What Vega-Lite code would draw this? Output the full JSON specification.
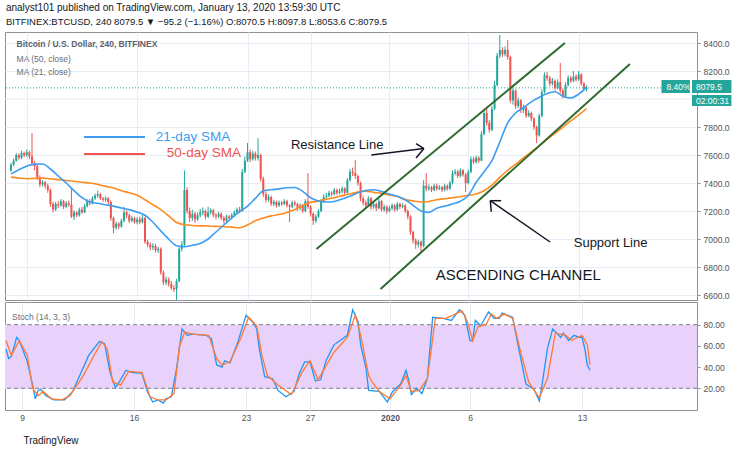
{
"$schema":"https://vega.github.io/schema/vega-lite/v6.json",
"background":"#ffffff",
"padding":{"left":2,"top":3,"right":0,"bottom":0},
"spacing":0,
"title":{"text":"analyst101 published on TradingView.com, January 13, 2020 13:59:30 UTC","subtitle":"BITFINEX:BTCUSD, 240 8079.5 ▼ −95.2 (−1.16%) O:8070.5 H:8097.8 L:8053.6 C:8079.5","anchor":"start","dx":3,"font":"Liberation Sans","subtitleFont":"Liberation Sans","fontSize":10,"subtitleFontSize":9.5,"fontWeight":"normal","color":"#131722","subtitleColor":"#131722","subtitlePadding":4,"offset":5},
"config":{"font":"Liberation Sans","view":{"stroke":"#8f9196"},"axis":{"labelFont":"Liberation Sans","labelFontSize":8.5,"labelColor":"#50535e","gridColor":"#e6edf4","tickColor":"#8a8d96","domain":false,"title":null}},
"datasets":{
"candles":[
{"t":"2019-12-08T00:00Z","o":7490,"h":7545,"l":7480,"c":7530},
{"t":"2019-12-08T04:00Z","o":7530,"h":7575,"l":7520,"c":7560},
{"t":"2019-12-08T08:00Z","o":7560,"h":7615,"l":7550,"c":7600},
{"t":"2019-12-08T12:00Z","o":7600,"h":7612,"l":7565,"c":7580},
{"t":"2019-12-08T16:00Z","o":7580,"h":7630,"l":7570,"c":7615},
{"t":"2019-12-08T20:00Z","o":7615,"h":7625,"l":7585,"c":7600},
{"t":"2019-12-09T00:00Z","o":7600,"h":7640,"l":7585,"c":7620},
{"t":"2019-12-09T04:00Z","o":7620,"h":7630,"l":7570,"c":7590},
{"t":"2019-12-09T08:00Z","o":7590,"h":7757,"l":7525,"c":7540},
{"t":"2019-12-09T12:00Z","o":7540,"h":7560,"l":7490,"c":7520},
{"t":"2019-12-09T16:00Z","o":7520,"h":7530,"l":7420,"c":7440},
{"t":"2019-12-09T20:00Z","o":7440,"h":7455,"l":7370,"c":7390},
{"t":"2019-12-10T00:00Z","o":7390,"h":7420,"l":7375,"c":7405},
{"t":"2019-12-10T04:00Z","o":7405,"h":7415,"l":7360,"c":7380},
{"t":"2019-12-10T08:00Z","o":7380,"h":7395,"l":7330,"c":7350},
{"t":"2019-12-10T12:00Z","o":7350,"h":7360,"l":7230,"c":7250},
{"t":"2019-12-10T16:00Z","o":7250,"h":7265,"l":7190,"c":7210},
{"t":"2019-12-10T20:00Z","o":7210,"h":7265,"l":7200,"c":7250},
{"t":"2019-12-11T00:00Z","o":7250,"h":7270,"l":7220,"c":7240},
{"t":"2019-12-11T04:00Z","o":7240,"h":7285,"l":7230,"c":7270},
{"t":"2019-12-11T08:00Z","o":7270,"h":7280,"l":7215,"c":7230},
{"t":"2019-12-11T12:00Z","o":7230,"h":7270,"l":7220,"c":7255},
{"t":"2019-12-11T16:00Z","o":7255,"h":7275,"l":7230,"c":7245},
{"t":"2019-12-11T20:00Z","o":7245,"h":7364,"l":7150,"c":7160},
{"t":"2019-12-12T00:00Z","o":7160,"h":7205,"l":7135,"c":7190},
{"t":"2019-12-12T04:00Z","o":7190,"h":7200,"l":7155,"c":7170},
{"t":"2019-12-12T08:00Z","o":7170,"h":7225,"l":7160,"c":7210},
{"t":"2019-12-12T12:00Z","o":7210,"h":7230,"l":7180,"c":7190},
{"t":"2019-12-12T16:00Z","o":7190,"h":7250,"l":7185,"c":7235},
{"t":"2019-12-12T20:00Z","o":7235,"h":7285,"l":7225,"c":7270},
{"t":"2019-12-13T00:00Z","o":7270,"h":7285,"l":7240,"c":7255},
{"t":"2019-12-13T04:00Z","o":7255,"h":7305,"l":7245,"c":7290},
{"t":"2019-12-13T08:00Z","o":7290,"h":7325,"l":7280,"c":7310},
{"t":"2019-12-13T12:00Z","o":7310,"h":7345,"l":7295,"c":7320},
{"t":"2019-12-13T16:00Z","o":7320,"h":7330,"l":7280,"c":7290},
{"t":"2019-12-13T20:00Z","o":7290,"h":7300,"l":7265,"c":7280},
{"t":"2019-12-14T00:00Z","o":7280,"h":7305,"l":7265,"c":7290},
{"t":"2019-12-14T04:00Z","o":7290,"h":7300,"l":7250,"c":7265},
{"t":"2019-12-14T08:00Z","o":7265,"h":7275,"l":7130,"c":7150},
{"t":"2019-12-14T12:00Z","o":7150,"h":7160,"l":7040,"c":7080},
{"t":"2019-12-14T16:00Z","o":7080,"h":7125,"l":7065,"c":7110},
{"t":"2019-12-14T20:00Z","o":7110,"h":7120,"l":7070,"c":7090},
{"t":"2019-12-15T00:00Z","o":7090,"h":7145,"l":7080,"c":7130},
{"t":"2019-12-15T04:00Z","o":7130,"h":7230,"l":7120,"c":7190},
{"t":"2019-12-15T08:00Z","o":7190,"h":7205,"l":7150,"c":7170},
{"t":"2019-12-15T12:00Z","o":7170,"h":7180,"l":7115,"c":7130},
{"t":"2019-12-15T16:00Z","o":7130,"h":7165,"l":7120,"c":7150},
{"t":"2019-12-15T20:00Z","o":7150,"h":7160,"l":7110,"c":7120},
{"t":"2019-12-16T00:00Z","o":7120,"h":7155,"l":7105,"c":7140},
{"t":"2019-12-16T04:00Z","o":7140,"h":7160,"l":7105,"c":7120},
{"t":"2019-12-16T08:00Z","o":7120,"h":7175,"l":7110,"c":7150},
{"t":"2019-12-16T12:00Z","o":7150,"h":7160,"l":6965,"c":6980},
{"t":"2019-12-16T16:00Z","o":6980,"h":6995,"l":6940,"c":6960},
{"t":"2019-12-16T20:00Z","o":6960,"h":6975,"l":6920,"c":6940},
{"t":"2019-12-17T00:00Z","o":6940,"h":6970,"l":6920,"c":6950},
{"t":"2019-12-17T04:00Z","o":6950,"h":6965,"l":6905,"c":6920},
{"t":"2019-12-17T08:00Z","o":6920,"h":6945,"l":6900,"c":6930},
{"t":"2019-12-17T12:00Z","o":6930,"h":6940,"l":6745,"c":6760},
{"t":"2019-12-17T16:00Z","o":6760,"h":6775,"l":6670,"c":6690},
{"t":"2019-12-17T20:00Z","o":6690,"h":6730,"l":6670,"c":6710},
{"t":"2019-12-18T00:00Z","o":6710,"h":6725,"l":6660,"c":6680},
{"t":"2019-12-18T04:00Z","o":6680,"h":6700,"l":6635,"c":6650},
{"t":"2019-12-18T08:00Z","o":6650,"h":6670,"l":6620,"c":6640},
{"t":"2019-12-18T12:00Z","o":6640,"h":6715,"l":6565,"c":6700},
{"t":"2019-12-18T16:00Z","o":6700,"h":6950,"l":6690,"c":6930},
{"t":"2019-12-18T20:00Z","o":6930,"h":6985,"l":6910,"c":6960},
{"t":"2019-12-19T00:00Z","o":6960,"h":7490,"l":6950,"c":7350},
{"t":"2019-12-19T04:00Z","o":7350,"h":7370,"l":7180,"c":7200},
{"t":"2019-12-19T08:00Z","o":7200,"h":7225,"l":7120,"c":7150},
{"t":"2019-12-19T12:00Z","o":7150,"h":7210,"l":7130,"c":7180},
{"t":"2019-12-19T16:00Z","o":7180,"h":7195,"l":7115,"c":7140},
{"t":"2019-12-19T20:00Z","o":7140,"h":7190,"l":7130,"c":7170},
{"t":"2019-12-20T00:00Z","o":7170,"h":7215,"l":7155,"c":7190},
{"t":"2019-12-20T04:00Z","o":7190,"h":7225,"l":7170,"c":7200},
{"t":"2019-12-20T08:00Z","o":7200,"h":7210,"l":7140,"c":7160},
{"t":"2019-12-20T12:00Z","o":7160,"h":7230,"l":7150,"c":7190},
{"t":"2019-12-20T16:00Z","o":7190,"h":7220,"l":7175,"c":7205},
{"t":"2019-12-20T20:00Z","o":7205,"h":7215,"l":7155,"c":7170},
{"t":"2019-12-21T00:00Z","o":7170,"h":7185,"l":7140,"c":7160},
{"t":"2019-12-21T04:00Z","o":7160,"h":7195,"l":7150,"c":7180},
{"t":"2019-12-21T08:00Z","o":7180,"h":7190,"l":7135,"c":7150},
{"t":"2019-12-21T12:00Z","o":7150,"h":7165,"l":7110,"c":7130},
{"t":"2019-12-21T16:00Z","o":7130,"h":7175,"l":7120,"c":7160},
{"t":"2019-12-21T20:00Z","o":7160,"h":7170,"l":7135,"c":7150},
{"t":"2019-12-22T00:00Z","o":7150,"h":7185,"l":7140,"c":7170},
{"t":"2019-12-22T04:00Z","o":7170,"h":7205,"l":7160,"c":7190},
{"t":"2019-12-22T08:00Z","o":7190,"h":7225,"l":7180,"c":7210},
{"t":"2019-12-22T12:00Z","o":7210,"h":7230,"l":7185,"c":7200},
{"t":"2019-12-22T16:00Z","o":7200,"h":7500,"l":7195,"c":7480},
{"t":"2019-12-22T20:00Z","o":7480,"h":7590,"l":7470,"c":7560},
{"t":"2019-12-23T00:00Z","o":7560,"h":7686,"l":7550,"c":7620},
{"t":"2019-12-23T04:00Z","o":7620,"h":7640,"l":7550,"c":7570},
{"t":"2019-12-23T08:00Z","o":7570,"h":7630,"l":7560,"c":7610},
{"t":"2019-12-23T12:00Z","o":7610,"h":7625,"l":7560,"c":7580},
{"t":"2019-12-23T16:00Z","o":7580,"h":7720,"l":7560,"c":7600},
{"t":"2019-12-23T20:00Z","o":7600,"h":7610,"l":7410,"c":7430},
{"t":"2019-12-24T00:00Z","o":7430,"h":7445,"l":7300,"c":7320},
{"t":"2019-12-24T04:00Z","o":7320,"h":7340,"l":7260,"c":7280},
{"t":"2019-12-24T08:00Z","o":7280,"h":7320,"l":7265,"c":7300},
{"t":"2019-12-24T12:00Z","o":7300,"h":7310,"l":7235,"c":7250},
{"t":"2019-12-24T16:00Z","o":7250,"h":7280,"l":7235,"c":7265},
{"t":"2019-12-24T20:00Z","o":7265,"h":7275,"l":7225,"c":7240},
{"t":"2019-12-25T00:00Z","o":7240,"h":7275,"l":7230,"c":7260},
{"t":"2019-12-25T04:00Z","o":7260,"h":7270,"l":7235,"c":7250},
{"t":"2019-12-25T08:00Z","o":7250,"h":7285,"l":7240,"c":7270},
{"t":"2019-12-25T12:00Z","o":7270,"h":7280,"l":7225,"c":7240},
{"t":"2019-12-25T16:00Z","o":7240,"h":7250,"l":7120,"c":7230},
{"t":"2019-12-25T20:00Z","o":7230,"h":7275,"l":7220,"c":7260},
{"t":"2019-12-26T00:00Z","o":7260,"h":7275,"l":7235,"c":7250},
{"t":"2019-12-26T04:00Z","o":7250,"h":7260,"l":7200,"c":7220},
{"t":"2019-12-26T08:00Z","o":7220,"h":7255,"l":7205,"c":7240},
{"t":"2019-12-26T12:00Z","o":7240,"h":7250,"l":7185,"c":7200},
{"t":"2019-12-26T16:00Z","o":7200,"h":7285,"l":7190,"c":7270},
{"t":"2019-12-26T20:00Z","o":7270,"h":7471,"l":7215,"c":7230},
{"t":"2019-12-27T00:00Z","o":7230,"h":7240,"l":7160,"c":7180},
{"t":"2019-12-27T04:00Z","o":7180,"h":7190,"l":7100,"c":7130},
{"t":"2019-12-27T08:00Z","o":7130,"h":7175,"l":7115,"c":7160},
{"t":"2019-12-27T12:00Z","o":7160,"h":7215,"l":7150,"c":7200},
{"t":"2019-12-27T16:00Z","o":7200,"h":7285,"l":7190,"c":7270},
{"t":"2019-12-27T20:00Z","o":7270,"h":7320,"l":7260,"c":7300},
{"t":"2019-12-28T00:00Z","o":7300,"h":7330,"l":7290,"c":7310},
{"t":"2019-12-28T04:00Z","o":7310,"h":7345,"l":7300,"c":7330},
{"t":"2019-12-28T08:00Z","o":7330,"h":7340,"l":7305,"c":7320},
{"t":"2019-12-28T12:00Z","o":7320,"h":7365,"l":7310,"c":7350},
{"t":"2019-12-28T16:00Z","o":7350,"h":7360,"l":7315,"c":7330},
{"t":"2019-12-28T20:00Z","o":7330,"h":7360,"l":7320,"c":7340},
{"t":"2019-12-29T00:00Z","o":7340,"h":7375,"l":7325,"c":7360},
{"t":"2019-12-29T04:00Z","o":7360,"h":7370,"l":7315,"c":7330},
{"t":"2019-12-29T08:00Z","o":7330,"h":7435,"l":7325,"c":7420},
{"t":"2019-12-29T12:00Z","o":7420,"h":7500,"l":7410,"c":7480},
{"t":"2019-12-29T16:00Z","o":7480,"h":7510,"l":7450,"c":7470},
{"t":"2019-12-29T20:00Z","o":7470,"h":7564,"l":7430,"c":7450},
{"t":"2019-12-30T00:00Z","o":7450,"h":7460,"l":7380,"c":7400},
{"t":"2019-12-30T04:00Z","o":7400,"h":7410,"l":7270,"c":7290},
{"t":"2019-12-30T08:00Z","o":7290,"h":7305,"l":7240,"c":7260},
{"t":"2019-12-30T12:00Z","o":7260,"h":7275,"l":7215,"c":7240},
{"t":"2019-12-30T16:00Z","o":7240,"h":7305,"l":7230,"c":7290},
{"t":"2019-12-30T20:00Z","o":7290,"h":7300,"l":7210,"c":7230},
{"t":"2019-12-31T00:00Z","o":7230,"h":7265,"l":7215,"c":7250},
{"t":"2019-12-31T04:00Z","o":7250,"h":7260,"l":7200,"c":7220},
{"t":"2019-12-31T08:00Z","o":7220,"h":7290,"l":7210,"c":7270},
{"t":"2019-12-31T12:00Z","o":7270,"h":7280,"l":7195,"c":7210},
{"t":"2019-12-31T16:00Z","o":7210,"h":7245,"l":7195,"c":7230},
{"t":"2019-12-31T20:00Z","o":7230,"h":7240,"l":7180,"c":7200},
{"t":"2020-01-01T00:00Z","o":7200,"h":7235,"l":7190,"c":7220},
{"t":"2020-01-01T04:00Z","o":7220,"h":7255,"l":7205,"c":7240},
{"t":"2020-01-01T08:00Z","o":7240,"h":7250,"l":7195,"c":7210},
{"t":"2020-01-01T12:00Z","o":7210,"h":7265,"l":7200,"c":7250},
{"t":"2020-01-01T16:00Z","o":7250,"h":7260,"l":7215,"c":7230},
{"t":"2020-01-01T20:00Z","o":7230,"h":7255,"l":7220,"c":7240},
{"t":"2020-01-02T00:00Z","o":7240,"h":7250,"l":7185,"c":7200},
{"t":"2020-01-02T04:00Z","o":7200,"h":7210,"l":7140,"c":7160},
{"t":"2020-01-02T08:00Z","o":7160,"h":7170,"l":7030,"c":7050},
{"t":"2020-01-02T12:00Z","o":7050,"h":7060,"l":6970,"c":6990},
{"t":"2020-01-02T16:00Z","o":6990,"h":7005,"l":6930,"c":6960},
{"t":"2020-01-02T20:00Z","o":6960,"h":6995,"l":6940,"c":6980},
{"t":"2020-01-03T00:00Z","o":6980,"h":6990,"l":6907,"c":6950},
{"t":"2020-01-03T04:00Z","o":6950,"h":7420,"l":6940,"c":7380},
{"t":"2020-01-03T08:00Z","o":7380,"h":7470,"l":7340,"c":7360},
{"t":"2020-01-03T12:00Z","o":7360,"h":7390,"l":7345,"c":7370},
{"t":"2020-01-03T16:00Z","o":7370,"h":7380,"l":7335,"c":7350},
{"t":"2020-01-03T20:00Z","o":7350,"h":7395,"l":7340,"c":7380},
{"t":"2020-01-04T00:00Z","o":7380,"h":7395,"l":7345,"c":7360},
{"t":"2020-01-04T04:00Z","o":7360,"h":7385,"l":7350,"c":7370},
{"t":"2020-01-04T08:00Z","o":7370,"h":7380,"l":7335,"c":7350},
{"t":"2020-01-04T12:00Z","o":7350,"h":7395,"l":7340,"c":7380},
{"t":"2020-01-04T16:00Z","o":7380,"h":7390,"l":7345,"c":7360},
{"t":"2020-01-04T20:00Z","o":7360,"h":7415,"l":7350,"c":7400},
{"t":"2020-01-05T00:00Z","o":7400,"h":7490,"l":7390,"c":7470},
{"t":"2020-01-05T04:00Z","o":7470,"h":7500,"l":7455,"c":7480},
{"t":"2020-01-05T08:00Z","o":7480,"h":7495,"l":7435,"c":7450},
{"t":"2020-01-05T12:00Z","o":7450,"h":7505,"l":7440,"c":7490},
{"t":"2020-01-05T16:00Z","o":7490,"h":7500,"l":7445,"c":7460},
{"t":"2020-01-05T20:00Z","o":7460,"h":7470,"l":7336,"c":7400},
{"t":"2020-01-06T00:00Z","o":7400,"h":7495,"l":7390,"c":7480},
{"t":"2020-01-06T04:00Z","o":7480,"h":7590,"l":7470,"c":7570},
{"t":"2020-01-06T08:00Z","o":7570,"h":7585,"l":7535,"c":7550},
{"t":"2020-01-06T12:00Z","o":7550,"h":7595,"l":7540,"c":7580},
{"t":"2020-01-06T16:00Z","o":7580,"h":7590,"l":7545,"c":7560},
{"t":"2020-01-06T20:00Z","o":7560,"h":7770,"l":7555,"c":7750},
{"t":"2020-01-07T00:00Z","o":7750,"h":7930,"l":7740,"c":7900},
{"t":"2020-01-07T04:00Z","o":7900,"h":7945,"l":7810,"c":7830},
{"t":"2020-01-07T08:00Z","o":7830,"h":7850,"l":7760,"c":7780},
{"t":"2020-01-07T12:00Z","o":7780,"h":7950,"l":7770,"c":7930},
{"t":"2020-01-07T16:00Z","o":7930,"h":8130,"l":7920,"c":8100},
{"t":"2020-01-07T20:00Z","o":8100,"h":8330,"l":8090,"c":8310},
{"t":"2020-01-08T00:00Z","o":8310,"h":8457,"l":8290,"c":8350},
{"t":"2020-01-08T04:00Z","o":8350,"h":8370,"l":8300,"c":8320},
{"t":"2020-01-08T08:00Z","o":8320,"h":8375,"l":8305,"c":8350},
{"t":"2020-01-08T12:00Z","o":8350,"h":8421,"l":8280,"c":8300},
{"t":"2020-01-08T16:00Z","o":8300,"h":8310,"l":7970,"c":7990},
{"t":"2020-01-08T20:00Z","o":7990,"h":8080,"l":7960,"c":8060},
{"t":"2020-01-09T00:00Z","o":8060,"h":8070,"l":7930,"c":7950},
{"t":"2020-01-09T04:00Z","o":7950,"h":8010,"l":7935,"c":7990},
{"t":"2020-01-09T08:00Z","o":7990,"h":8000,"l":7900,"c":7920},
{"t":"2020-01-09T12:00Z","o":7920,"h":7960,"l":7900,"c":7940},
{"t":"2020-01-09T16:00Z","o":7940,"h":7950,"l":7865,"c":7880},
{"t":"2020-01-09T20:00Z","o":7880,"h":7920,"l":7870,"c":7900},
{"t":"2020-01-10T00:00Z","o":7900,"h":7910,"l":7840,"c":7860},
{"t":"2020-01-10T04:00Z","o":7860,"h":7870,"l":7780,"c":7800},
{"t":"2020-01-10T08:00Z","o":7800,"h":7810,"l":7686,"c":7740},
{"t":"2020-01-10T12:00Z","o":7740,"h":7895,"l":7730,"c":7880},
{"t":"2020-01-10T16:00Z","o":7880,"h":8070,"l":7870,"c":8050},
{"t":"2020-01-10T20:00Z","o":8050,"h":8190,"l":8040,"c":8170},
{"t":"2020-01-11T00:00Z","o":8170,"h":8195,"l":8130,"c":8150},
{"t":"2020-01-11T04:00Z","o":8150,"h":8165,"l":8090,"c":8110},
{"t":"2020-01-11T08:00Z","o":8110,"h":8150,"l":8095,"c":8130},
{"t":"2020-01-11T12:00Z","o":8130,"h":8140,"l":8060,"c":8080},
{"t":"2020-01-11T16:00Z","o":8080,"h":8140,"l":8070,"c":8120},
{"t":"2020-01-11T20:00Z","o":8120,"h":8257,"l":8040,"c":8060},
{"t":"2020-01-12T00:00Z","o":8060,"h":8075,"l":8005,"c":8020},
{"t":"2020-01-12T04:00Z","o":8020,"h":8120,"l":8010,"c":8100},
{"t":"2020-01-12T08:00Z","o":8100,"h":8170,"l":8090,"c":8150},
{"t":"2020-01-12T12:00Z","o":8150,"h":8165,"l":8115,"c":8130},
{"t":"2020-01-12T16:00Z","o":8130,"h":8200,"l":8120,"c":8160},
{"t":"2020-01-12T20:00Z","o":8160,"h":8175,"l":8125,"c":8140},
{"t":"2020-01-13T00:00Z","o":8140,"h":8200,"l":8130,"c":8175},
{"t":"2020-01-13T04:00Z","o":8175,"h":8185,"l":8095,"c":8110},
{"t":"2020-01-13T08:00Z","o":8110,"h":8120,"l":8060,"c":8070.5},
{"t":"2020-01-13T12:00Z","o":8070.5,"h":8097.8,"l":8053.6,"c":8079.5}
],
"ma":[
{"t":"2019-12-08T00:00Z","m21":7465,"m50":7442},
{"t":"2019-12-08T12:00Z","m21":7495,"m50":7435},
{"t":"2019-12-09T00:00Z","m21":7520,"m50":7430},
{"t":"2019-12-09T12:00Z","m21":7535,"m50":7433},
{"t":"2019-12-10T00:00Z","m21":7536,"m50":7435},
{"t":"2019-12-10T12:00Z","m21":7500,"m50":7430},
{"t":"2019-12-11T00:00Z","m21":7450,"m50":7424},
{"t":"2019-12-11T12:00Z","m21":7400,"m50":7418},
{"t":"2019-12-12T00:00Z","m21":7345,"m50":7412},
{"t":"2019-12-12T12:00Z","m21":7295,"m50":7405},
{"t":"2019-12-13T00:00Z","m21":7265,"m50":7400},
{"t":"2019-12-13T12:00Z","m21":7255,"m50":7390},
{"t":"2019-12-14T00:00Z","m21":7245,"m50":7376},
{"t":"2019-12-14T12:00Z","m21":7235,"m50":7365},
{"t":"2019-12-15T00:00Z","m21":7221,"m50":7345},
{"t":"2019-12-15T12:00Z","m21":7210,"m50":7330},
{"t":"2019-12-16T00:00Z","m21":7192,"m50":7312},
{"t":"2019-12-16T12:00Z","m21":7170,"m50":7280},
{"t":"2019-12-17T00:00Z","m21":7120,"m50":7245},
{"t":"2019-12-17T12:00Z","m21":7058,"m50":7210},
{"t":"2019-12-18T00:00Z","m21":7000,"m50":7165},
{"t":"2019-12-18T12:00Z","m21":6952,"m50":7118},
{"t":"2019-12-19T00:00Z","m21":6945,"m50":7102},
{"t":"2019-12-19T12:00Z","m21":6955,"m50":7097},
{"t":"2019-12-20T00:00Z","m21":6968,"m50":7094},
{"t":"2019-12-20T12:00Z","m21":7000,"m50":7093},
{"t":"2019-12-21T00:00Z","m21":7050,"m50":7090},
{"t":"2019-12-21T12:00Z","m21":7100,"m50":7088},
{"t":"2019-12-22T00:00Z","m21":7150,"m50":7085},
{"t":"2019-12-22T12:00Z","m21":7195,"m50":7080},
{"t":"2019-12-23T00:00Z","m21":7235,"m50":7100},
{"t":"2019-12-23T12:00Z","m21":7290,"m50":7130},
{"t":"2019-12-24T00:00Z","m21":7345,"m50":7150},
{"t":"2019-12-24T12:00Z","m21":7352,"m50":7165},
{"t":"2019-12-25T00:00Z","m21":7358,"m50":7175},
{"t":"2019-12-25T12:00Z","m21":7366,"m50":7190},
{"t":"2019-12-26T00:00Z","m21":7368,"m50":7210},
{"t":"2019-12-26T12:00Z","m21":7340,"m50":7240},
{"t":"2019-12-27T00:00Z","m21":7295,"m50":7262},
{"t":"2019-12-27T12:00Z","m21":7272,"m50":7270},
{"t":"2019-12-28T00:00Z","m21":7264,"m50":7285},
{"t":"2019-12-28T12:00Z","m21":7268,"m50":7295},
{"t":"2019-12-29T00:00Z","m21":7285,"m50":7310},
{"t":"2019-12-29T12:00Z","m21":7305,"m50":7322},
{"t":"2019-12-30T00:00Z","m21":7330,"m50":7336},
{"t":"2019-12-30T12:00Z","m21":7346,"m50":7342},
{"t":"2019-12-31T00:00Z","m21":7352,"m50":7333},
{"t":"2019-12-31T12:00Z","m21":7340,"m50":7326},
{"t":"2020-01-01T00:00Z","m21":7321,"m50":7314},
{"t":"2020-01-01T12:00Z","m21":7305,"m50":7303},
{"t":"2020-01-02T00:00Z","m21":7280,"m50":7282},
{"t":"2020-01-02T12:00Z","m21":7240,"m50":7272},
{"t":"2020-01-03T00:00Z","m21":7200,"m50":7264},
{"t":"2020-01-03T12:00Z","m21":7190,"m50":7268},
{"t":"2020-01-04T00:00Z","m21":7220,"m50":7280},
{"t":"2020-01-04T12:00Z","m21":7235,"m50":7288},
{"t":"2020-01-05T00:00Z","m21":7250,"m50":7295},
{"t":"2020-01-05T12:00Z","m21":7270,"m50":7302},
{"t":"2020-01-06T00:00Z","m21":7310,"m50":7312},
{"t":"2020-01-06T12:00Z","m21":7405,"m50":7322},
{"t":"2020-01-07T00:00Z","m21":7480,"m50":7345},
{"t":"2020-01-07T12:00Z","m21":7560,"m50":7385},
{"t":"2020-01-08T00:00Z","m21":7693,"m50":7440},
{"t":"2020-01-08T12:00Z","m21":7829,"m50":7491},
{"t":"2020-01-09T00:00Z","m21":7900,"m50":7535},
{"t":"2020-01-09T12:00Z","m21":7938,"m50":7579},
{"t":"2020-01-10T00:00Z","m21":7980,"m50":7623},
{"t":"2020-01-10T12:00Z","m21":8012,"m50":7666},
{"t":"2020-01-11T00:00Z","m21":8040,"m50":7711},
{"t":"2020-01-11T12:00Z","m21":8052,"m50":7754},
{"t":"2020-01-12T00:00Z","m21":8020,"m50":7799},
{"t":"2020-01-12T12:00Z","m21":8007,"m50":7843},
{"t":"2020-01-13T00:00Z","m21":8035,"m50":7886},
{"t":"2020-01-13T12:00Z","m21":8085,"m50":7931}
],
"stoch":[
{"t":"2019-12-08T00:00Z","s":"K","v":57},{"t":"2019-12-08T04:00Z","s":"K","v":48},{"t":"2019-12-08T08:00Z","s":"K","v":50},{"t":"2019-12-08T16:00Z","s":"K","v":68},{"t":"2019-12-08T20:00Z","s":"K","v":65},
{"t":"2019-12-09T08:00Z","s":"K","v":45},{"t":"2019-12-09T16:00Z","s":"K","v":23},{"t":"2019-12-09T20:00Z","s":"K","v":10},{"t":"2019-12-10T00:00Z","s":"K","v":18},{"t":"2019-12-10T04:00Z","s":"K","v":19},
{"t":"2019-12-10T12:00Z","s":"K","v":13},{"t":"2019-12-11T00:00Z","s":"K","v":9},{"t":"2019-12-11T16:00Z","s":"K","v":9},{"t":"2019-12-12T04:00Z","s":"K","v":17},{"t":"2019-12-12T16:00Z","s":"K","v":34},
{"t":"2019-12-13T04:00Z","s":"K","v":51},{"t":"2019-12-13T20:00Z","s":"K","v":64},{"t":"2019-12-14T04:00Z","s":"K","v":62},{"t":"2019-12-14T12:00Z","s":"K","v":35},{"t":"2019-12-14T20:00Z","s":"K","v":21},
{"t":"2019-12-15T00:00Z","s":"K","v":24},{"t":"2019-12-15T12:00Z","s":"K","v":37},{"t":"2019-12-15T20:00Z","s":"K","v":35},{"t":"2019-12-16T12:00Z","s":"K","v":34},{"t":"2019-12-16T20:00Z","s":"K","v":17},
{"t":"2019-12-17T04:00Z","s":"K","v":7},{"t":"2019-12-17T12:00Z","s":"K","v":9},{"t":"2019-12-17T20:00Z","s":"K","v":6},{"t":"2019-12-18T00:00Z","s":"K","v":10},{"t":"2019-12-18T08:00Z","s":"K","v":12},
{"t":"2019-12-18T16:00Z","s":"K","v":39},{"t":"2019-12-19T00:00Z","s":"K","v":76},{"t":"2019-12-19T08:00Z","s":"K","v":70},{"t":"2019-12-19T16:00Z","s":"K","v":71},{"t":"2019-12-20T12:00Z","s":"K","v":70},
{"t":"2019-12-20T20:00Z","s":"K","v":67},{"t":"2019-12-21T04:00Z","s":"K","v":42},{"t":"2019-12-21T12:00Z","s":"K","v":40},{"t":"2019-12-21T16:00Z","s":"K","v":46},{"t":"2019-12-22T00:00Z","s":"K","v":44},
{"t":"2019-12-22T12:00Z","s":"K","v":64},{"t":"2019-12-23T00:00Z","s":"K","v":89},{"t":"2019-12-23T12:00Z","s":"K","v":81},{"t":"2019-12-23T16:00Z","s":"K","v":76},{"t":"2019-12-23T20:00Z","s":"K","v":57},
{"t":"2019-12-24T04:00Z","s":"K","v":31},{"t":"2019-12-24T16:00Z","s":"K","v":29},{"t":"2019-12-25T00:00Z","s":"K","v":18},{"t":"2019-12-25T12:00Z","s":"K","v":12},{"t":"2019-12-26T00:00Z","s":"K","v":17},
{"t":"2019-12-26T08:00Z","s":"K","v":34},{"t":"2019-12-26T16:00Z","s":"K","v":45},{"t":"2019-12-27T00:00Z","s":"K","v":45},{"t":"2019-12-27T08:00Z","s":"K","v":27},{"t":"2019-12-27T16:00Z","s":"K","v":28},
{"t":"2019-12-28T00:00Z","s":"K","v":46},{"t":"2019-12-28T12:00Z","s":"K","v":61},{"t":"2019-12-29T08:00Z","s":"K","v":70},{"t":"2019-12-29T16:00Z","s":"K","v":94},{"t":"2019-12-30T00:00Z","s":"K","v":83},
{"t":"2019-12-30T04:00Z","s":"K","v":61},{"t":"2019-12-30T12:00Z","s":"K","v":39},{"t":"2019-12-30T16:00Z","s":"K","v":18},{"t":"2019-12-31T08:00Z","s":"K","v":17},{"t":"2019-12-31T20:00Z","s":"K","v":7},
{"t":"2020-01-01T04:00Z","s":"K","v":17},{"t":"2020-01-01T16:00Z","s":"K","v":24},{"t":"2020-01-02T00:00Z","s":"K","v":37},{"t":"2020-01-02T04:00Z","s":"K","v":28},{"t":"2020-01-02T08:00Z","s":"K","v":14},
{"t":"2020-01-02T16:00Z","s":"K","v":20},{"t":"2020-01-03T00:00Z","s":"K","v":15},{"t":"2020-01-03T08:00Z","s":"K","v":29},{"t":"2020-01-03T16:00Z","s":"K","v":87},{"t":"2020-01-04T08:00Z","s":"K","v":86},
{"t":"2020-01-04T20:00Z","s":"K","v":84},{"t":"2020-01-05T08:00Z","s":"K","v":94},{"t":"2020-01-05T16:00Z","s":"K","v":89},{"t":"2020-01-06T00:00Z","s":"K","v":65},{"t":"2020-01-06T04:00Z","s":"K","v":65},
{"t":"2020-01-06T08:00Z","s":"K","v":84},{"t":"2020-01-06T16:00Z","s":"K","v":79},{"t":"2020-01-07T04:00Z","s":"K","v":92},{"t":"2020-01-07T12:00Z","s":"K","v":86},{"t":"2020-01-07T20:00Z","s":"K","v":86},
{"t":"2020-01-08T00:00Z","s":"K","v":91},{"t":"2020-01-08T16:00Z","s":"K","v":87},{"t":"2020-01-09T00:00Z","s":"K","v":61},{"t":"2020-01-09T12:00Z","s":"K","v":24},{"t":"2020-01-10T00:00Z","s":"K","v":19},
{"t":"2020-01-10T08:00Z","s":"K","v":8},{"t":"2020-01-10T12:00Z","s":"K","v":23},{"t":"2020-01-10T20:00Z","s":"K","v":57},{"t":"2020-01-11T04:00Z","s":"K","v":76},{"t":"2020-01-11T16:00Z","s":"K","v":68},
{"t":"2020-01-11T20:00Z","s":"K","v":72},{"t":"2020-01-12T04:00Z","s":"K","v":65},{"t":"2020-01-12T12:00Z","s":"K","v":70},{"t":"2020-01-12T20:00Z","s":"K","v":68},{"t":"2020-01-13T00:00Z","s":"K","v":68},
{"t":"2020-01-13T04:00Z","s":"K","v":58},{"t":"2020-01-13T08:00Z","s":"K","v":42},{"t":"2020-01-13T12:00Z","s":"K","v":37},
{"t":"2019-12-08T00:00Z","s":"D","v":65},{"t":"2019-12-08T08:00Z","s":"D","v":51},{"t":"2019-12-08T20:00Z","s":"D","v":65},{"t":"2019-12-09T08:00Z","s":"D","v":51},{"t":"2019-12-09T16:00Z","s":"D","v":20},
{"t":"2019-12-10T00:00Z","s":"D","v":13},{"t":"2019-12-10T08:00Z","s":"D","v":17},{"t":"2019-12-10T20:00Z","s":"D","v":10},{"t":"2019-12-11T12:00Z","s":"D","v":9},{"t":"2019-12-12T00:00Z","s":"D","v":13},
{"t":"2019-12-12T20:00Z","s":"D","v":32},{"t":"2019-12-13T12:00Z","s":"D","v":51},{"t":"2019-12-14T00:00Z","s":"D","v":64},{"t":"2019-12-14T08:00Z","s":"D","v":57},{"t":"2019-12-14T16:00Z","s":"D","v":26},
{"t":"2019-12-15T04:00Z","s":"D","v":23},{"t":"2019-12-15T16:00Z","s":"D","v":36},{"t":"2019-12-16T12:00Z","s":"D","v":35},{"t":"2019-12-17T00:00Z","s":"D","v":12},{"t":"2019-12-17T12:00Z","s":"D","v":9},
{"t":"2019-12-18T00:00Z","s":"D","v":9},{"t":"2019-12-18T12:00Z","s":"D","v":15},{"t":"2019-12-18T20:00Z","s":"D","v":59},{"t":"2019-12-19T04:00Z","s":"D","v":73},{"t":"2019-12-19T16:00Z","s":"D","v":71},
{"t":"2019-12-20T16:00Z","s":"D","v":70},{"t":"2019-12-21T04:00Z","s":"D","v":48},{"t":"2019-12-21T12:00Z","s":"D","v":42},{"t":"2019-12-22T00:00Z","s":"D","v":45},{"t":"2019-12-22T16:00Z","s":"D","v":67},
{"t":"2019-12-23T04:00Z","s":"D","v":87},{"t":"2019-12-23T16:00Z","s":"D","v":79},{"t":"2019-12-24T00:00Z","s":"D","v":51},{"t":"2019-12-24T08:00Z","s":"D","v":32},{"t":"2019-12-25T00:00Z","s":"D","v":23},
{"t":"2019-12-25T20:00Z","s":"D","v":14},{"t":"2019-12-26T12:00Z","s":"D","v":35},{"t":"2019-12-27T00:00Z","s":"D","v":46},{"t":"2019-12-27T12:00Z","s":"D","v":28},{"t":"2019-12-28T12:00Z","s":"D","v":54},
{"t":"2019-12-29T08:00Z","s":"D","v":68},{"t":"2019-12-29T20:00Z","s":"D","v":89},{"t":"2019-12-30T04:00Z","s":"D","v":70},{"t":"2019-12-30T16:00Z","s":"D","v":32},{"t":"2019-12-30T20:00Z","s":"D","v":27},
{"t":"2019-12-31T08:00Z","s":"D","v":17},{"t":"2020-01-01T00:00Z","s":"D","v":10},{"t":"2020-01-01T16:00Z","s":"D","v":23},{"t":"2020-01-02T00:00Z","s":"D","v":32},{"t":"2020-01-02T08:00Z","s":"D","v":17},
{"t":"2020-01-02T20:00Z","s":"D","v":18},{"t":"2020-01-03T08:00Z","s":"D","v":29},{"t":"2020-01-03T20:00Z","s":"D","v":86},{"t":"2020-01-04T12:00Z","s":"D","v":86},{"t":"2020-01-05T12:00Z","s":"D","v":93},
{"t":"2020-01-05T20:00Z","s":"D","v":83},{"t":"2020-01-06T04:00Z","s":"D","v":65},{"t":"2020-01-06T12:00Z","s":"D","v":78},{"t":"2020-01-07T00:00Z","s":"D","v":80},{"t":"2020-01-07T08:00Z","s":"D","v":90},
{"t":"2020-01-07T16:00Z","s":"D","v":86},{"t":"2020-01-08T04:00Z","s":"D","v":90},{"t":"2020-01-08T16:00Z","s":"D","v":86},{"t":"2020-01-09T04:00Z","s":"D","v":54},{"t":"2020-01-09T16:00Z","s":"D","v":26},
{"t":"2020-01-10T08:00Z","s":"D","v":11},{"t":"2020-01-10T20:00Z","s":"D","v":29},{"t":"2020-01-11T08:00Z","s":"D","v":72},{"t":"2020-01-12T00:00Z","s":"D","v":70},{"t":"2020-01-12T08:00Z","s":"D","v":65},
{"t":"2020-01-13T00:00Z","s":"D","v":70},{"t":"2020-01-13T08:00Z","s":"D","v":61},{"t":"2020-01-13T12:00Z","s":"D","v":42}
]
},
"vconcat":[
{
"width":692,"height":268,
"layer":[
{"data":{"values":[{"g":8000}]},"mark":{"type":"rule","color":"#e6edf4","strokeWidth":1},
 "encoding":{"y":{"field":"g","type":"quantitative"}}},
{"data":{"name":"candles"},"mark":{"type":"rule","strokeWidth":1},
 "encoding":{
  "x":{"field":"t","type":"temporal","scale":{"type":"utc","domain":[{"year":2019,"month":12,"date":7,"hours":22,"minutes":30,"utc":true},{"year":2020,"month":1,"date":20,"hours":4,"minutes":30,"utc":true}]},
   "axis":{"values":[{"year":2019,"month":12,"date":9,"utc":true},{"year":2019,"month":12,"date":16,"utc":true},{"year":2019,"month":12,"date":23,"utc":true},{"year":2019,"month":12,"date":27,"utc":true},{"year":2020,"month":1,"date":1,"utc":true},{"year":2020,"month":1,"date":6,"utc":true},{"year":2020,"month":1,"date":13,"utc":true}],"tickCount":20,"labels":false,"ticks":false,"domain":false,"grid":true,"title":null}},
  "y":{"field":"l","type":"quantitative","scale":{"domain":[6564.3,8478.6],"nice":false,"zero":false},
   "axis":{"orient":"right","values":[6600,6800,7000,7200,7400,7600,7800,8200,8400],"tickCount":20,"format":".1f","grid":true,"tickSize":3,"labelPadding":3,"labelOverlap":false,"title":null}},
  "y2":{"field":"h"},
  "color":{"condition":{"test":"datum.c >= datum.o","value":"#26a69a"},"value":"#ef5350"}}},
{"data":{"name":"candles"},"mark":{"type":"bar","size":2},
 "encoding":{"x":{"field":"t","type":"temporal"},"y":{"field":"o","type":"quantitative"},"y2":{"field":"c"},
  "color":{"condition":{"test":"datum.c >= datum.o","value":"#26a69a"},"value":"#ef5350"}}},
{"data":{"name":"ma"},"mark":{"type":"line","color":"#ff8a1e","strokeWidth":1.6,"interpolate":"monotone"},
 "encoding":{"x":{"field":"t","type":"temporal"},"y":{"field":"m50","type":"quantitative"}}},
{"data":{"name":"ma"},"mark":{"type":"line","color":"#3d9df2","strokeWidth":1.6,"interpolate":"monotone"},
 "encoding":{"x":{"field":"t","type":"temporal"},"y":{"field":"m21","type":"quantitative"}}},
{"data":{"values":[{"p":8079.5}]},"mark":{"type":"rule","color":"#26a69a","strokeDash":[1,2],"strokeWidth":1},
 "encoding":{"y":{"field":"p","type":"quantitative"}}},
{"data":{"values":[{"t1":"2019-12-27T09:00Z","p1":6928.6,"t2":"2020-01-12T03:00Z","p2":8400},{"t1":"2019-12-31T10:30Z","p1":6643,"t2":"2020-01-16T06:00Z","p2":8250}]},
 "mark":{"type":"rule","color":"#2e6b2e","strokeWidth":2},
 "encoding":{"x":{"field":"t1","type":"temporal"},"x2":{"field":"t2"},"y":{"field":"p1","type":"quantitative"},"y2":{"field":"p2"}}},
{"data":{"values":[{"t1":"2019-12-12T15:00Z","t2":"2019-12-16T12:00Z","p":7728.6}]},"mark":{"type":"rule","color":"#3d9df2","strokeWidth":2},
 "encoding":{"x":{"field":"t1","type":"temporal"},"x2":{"field":"t2"},"y":{"field":"p","type":"quantitative"}}},
{"data":{"values":[{"t1":"2019-12-12T15:00Z","t2":"2019-12-16T12:00Z","p":7607}]},"mark":{"type":"rule","color":"#ef5350","strokeWidth":2},
 "encoding":{"x":{"field":"t1","type":"temporal"},"x2":{"field":"t2"},"y":{"field":"p","type":"quantitative"}}},
{"data":{"values":[
 {"t1":"2019-12-30T20:30Z","p1":7600,"t2":"2020-01-03T04:30Z","p2":7646},
 {"t1":"2020-01-03T04:30Z","p1":7646,"t2":"2020-01-02T16:30Z","p2":7682},
 {"t1":"2020-01-03T04:30Z","p1":7646,"t2":"2020-01-02T16:30Z","p2":7579},
 {"t1":"2020-01-11T04:30Z","p1":6978.6,"t2":"2020-01-07T09:30Z","p2":7273.6},
 {"t1":"2020-01-07T09:30Z","p1":7273.6,"t2":"2020-01-08T02:00Z","p2":7273.6},
 {"t1":"2020-01-07T09:30Z","p1":7273.6,"t2":"2020-01-07T11:00Z","p2":7195}]},
 "mark":{"type":"rule","color":"#131722","strokeWidth":1.5},
 "encoding":{"x":{"field":"t1","type":"temporal"},"x2":{"field":"t2"},"y":{"field":"p1","type":"quantitative"},"y2":{"field":"p2"}}},
{"data":{"values":[{"t":"2019-12-17T04:30Z","p":7728.6,"label":"21-day SMA"}]},"mark":{"type":"text","align":"left","baseline":"middle","fontSize":13.5,"color":"#3d9df2"},
 "encoding":{"x":{"field":"t","type":"temporal"},"y":{"field":"p","type":"quantitative"},"text":{"field":"label"}}},
{"data":{"values":[{"t":"2019-12-17T21:00Z","p":7614,"label":"50-day SMA"}]},"mark":{"type":"text","align":"left","baseline":"middle","fontSize":13.5,"color":"#ef5350"},
 "encoding":{"x":{"field":"t","type":"temporal"},"y":{"field":"p","type":"quantitative"},"text":{"field":"label"}}},
{"data":{"values":[{"t":"2019-12-25T18:00Z","p":7668,"label":"Resistance Line"},{"t":"2020-01-12T16:30Z","p":6971.4,"label":"Support Line"}]},"mark":{"type":"text","align":"left","baseline":"middle","fontSize":13,"color":"#131722"},
 "encoding":{"x":{"field":"t","type":"temporal"},"y":{"field":"p","type":"quantitative"},"text":{"field":"label"}}},
{"data":{"values":[{"t":"2020-01-03T22:30Z","p":6743,"label":"ASCENDING CHANNEL"}]},"mark":{"type":"text","align":"left","baseline":"middle","fontSize":15,"color":"#131722"},
 "encoding":{"x":{"field":"t","type":"temporal"},"y":{"field":"p","type":"quantitative"},"text":{"field":"label"}}},
{"data":{"values":[{"t":"2019-12-08T08:30Z","p":8393,"label":"Bitcoin / U.S. Dollar, 240, BITFINEX"}]},"mark":{"type":"text","align":"left","baseline":"middle","fontSize":8.5,"fontWeight":"bold","color":"#5d606b"},
 "encoding":{"x":{"field":"t","type":"temporal"},"y":{"field":"p","type":"quantitative"},"text":{"field":"label"}}},
{"data":{"values":[{"t":"2019-12-08T08:30Z","p":8286,"label":"MA (50, close)"},{"t":"2019-12-08T08:30Z","p":8193,"label":"MA (21, close)"}]},"mark":{"type":"text","align":"left","baseline":"middle","fontSize":8.5,"color":"#6a6d78"},
 "encoding":{"x":{"field":"t","type":"temporal"},"y":{"field":"p","type":"quantitative"},"text":{"field":"label"}}},
{"data":{"values":[
 {"t1":"2020-01-20T04:30Z","t2":"2020-01-22T16:30Z","p1":8135.7,"p2":8042.9},
 {"t1":"2020-01-20T04:30Z","t2":"2020-01-22T16:30Z","p1":8028.6,"p2":7950},
 {"t1":"2020-01-18T06:00Z","t2":"2020-01-20T01:30Z","p1":8135.7,"p2":8042.9}]},
 "mark":{"type":"rect","color":"#26a69a"},
 "encoding":{"x":{"field":"t1","type":"temporal"},"x2":{"field":"t2"},"y":{"field":"p1","type":"quantitative"},"y2":{"field":"p2"}}},
{"data":{"values":[
 {"t":"2020-01-20T10:30Z","p":8089,"label":"8079.5"},
 {"t":"2020-01-20T10:30Z","p":7989,"label":"02:00:31"},
 {"t":"2020-01-18T13:30Z","p":8089,"label":"8.40%"}]},
 "mark":{"type":"text","align":"left","baseline":"middle","fontSize":8.5,"color":"#ffffff"},
 "encoding":{"x":{"field":"t","type":"temporal"},"y":{"field":"p","type":"quantitative"},"text":{"field":"label"}}}
]
},
{
"width":692,"height":108,
"title":{"text":"TradingView","orient":"bottom","anchor":"start","dx":20,"offset":14,"fontSize":10,"fontWeight":"normal","color":"#131722","font":"Liberation Sans"},
"layer":[
{"data":{"values":[{"lo":20,"hi":80}]},"mark":{"type":"rect","color":"#e8d2fb"},
 "encoding":{"y":{"field":"lo","type":"quantitative","scale":{"domain":[-0.5,101.4],"nice":false,"zero":false},
   "axis":{"orient":"right","values":[20,40,60,80],"tickCount":10,"format":".2f","grid":true,"tickSize":3,"labelPadding":3,"labelOverlap":false,"title":null}},
  "y2":{"field":"hi"}}},
{"data":{"values":[{"v":20},{"v":80}]},"mark":{"type":"rule","color":"#7b7e88","strokeDash":[4,3],"strokeWidth":1},
 "encoding":{"y":{"field":"v","type":"quantitative"}}},
{"data":{"name":"stoch"},"mark":{"type":"line","strokeWidth":1.3},
 "encoding":{
  "x":{"field":"t","type":"temporal","scale":{"type":"utc","domain":[{"year":2019,"month":12,"date":7,"hours":22,"minutes":30,"utc":true},{"year":2020,"month":1,"date":20,"hours":4,"minutes":30,"utc":true}]},
   "axis":{"values":[{"year":2019,"month":12,"date":9,"utc":true},{"year":2019,"month":12,"date":16,"utc":true},{"year":2019,"month":12,"date":23,"utc":true},{"year":2019,"month":12,"date":27,"utc":true},{"year":2020,"month":1,"date":1,"utc":true},{"year":2020,"month":1,"date":6,"utc":true},{"year":2020,"month":1,"date":13,"utc":true}],
    "tickCount":20,
    "labelExpr":"utcmonth(datum.value) == 0 && utcdate(datum.value) == 1 ? '2020' : '' + utcdate(datum.value)",
    "labelFontWeight":{"condition":{"test":"utcmonth(datum.value) == 0 && utcdate(datum.value) == 1","value":"bold"},"value":"normal"},
    "ticks":false,"domain":false,"grid":true,"labelPadding":3,"labelOverlap":false,"title":null}},
  "y":{"field":"v","type":"quantitative"},
  "color":{"field":"s","type":"nominal","scale":{"domain":["K","D"],"range":["#2196f3","#ff7a36"]},"legend":null}}},
{"data":{"values":[{"t":"2019-12-08T09:00Z","v":87.7,"label":"Stoch (14, 3, 3)"}]},"mark":{"type":"text","align":"left","baseline":"middle","fontSize":8.5,"color":"#6a6d78"},
 "encoding":{"x":{"field":"t","type":"temporal"},"y":{"field":"v","type":"quantitative"},"text":{"field":"label"}}}
]
}
]
}
